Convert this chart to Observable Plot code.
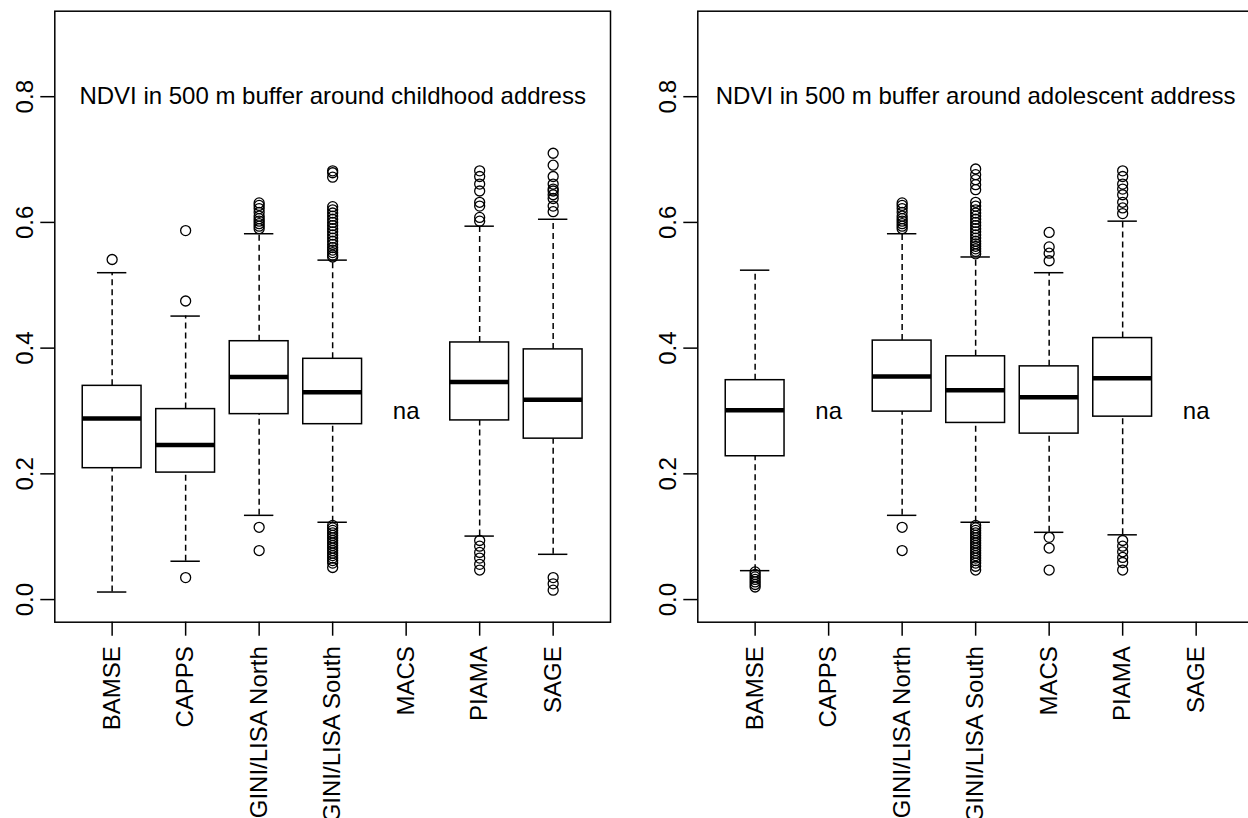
<!DOCTYPE html>
<html><head><meta charset="utf-8">
<script src="https://cdn.jsdelivr.net/npm/d3@7"></script>
<script src="https://cdn.jsdelivr.net/npm/@observablehq/plot@0.6"></script>
<style>
html,body{margin:0;padding:0;background:#fff;overflow:hidden;}
#wrap{position:relative;width:1248px;height:818px;overflow:hidden;}
#left,#right{position:absolute;top:0;height:818px;}
#left{left:0px;width:624px}
#right{left:624px;width:640px}
#wrap svg{max-width:none !important;display:block;}
</style></head><body><div id="wrap"><div id="left"></div><div id="right"></div></div>
<script>
const cohorts = ["BAMSE","CAPPS","GINI/LISA North","GINI/LISA South","MACS","PIAMA","SAGE"];
const yTicks = [0, 0.2, 0.4, 0.6, 0.8];

// Childhood address (left panel); null = not available
const childLow  = [0.012, 0.061, 0.134, 0.123, null, 0.101, 0.072];
const childQ1   = [0.209, 0.202, 0.295, 0.279, null, 0.285, 0.256];
const childMed  = [0.288, 0.246, 0.354, 0.330, null, 0.346, 0.318];
const childQ3   = [0.340, 0.303, 0.411, 0.383, null, 0.409, 0.398];
const childHigh = [0.520, 0.451, 0.582, 0.540, null, 0.594, 0.605];
const childOut = [
  [0.541],
  [0.587, 0.475, 0.035],
  [0.590, 0.594, 0.598, 0.602, 0.606, 0.610, 0.616, 0.622, 0.627, 0.631, 0.115, 0.078],
  [0.545, 0.548, 0.552, 0.556, 0.560, 0.565, 0.570, 0.575, 0.580, 0.585, 0.590, 0.595, 0.600, 0.605, 0.610, 0.615, 0.620, 0.625, 0.672, 0.679, 0.682,
   0.118, 0.114, 0.110, 0.106, 0.102, 0.098, 0.094, 0.090, 0.086, 0.082, 0.078, 0.074, 0.070, 0.066, 0.062, 0.058, 0.051],
  [],
  [0.602, 0.608, 0.626, 0.632, 0.650, 0.661, 0.673, 0.682, 0.094, 0.085, 0.075, 0.066, 0.056, 0.047],
  [0.617, 0.626, 0.638, 0.644, 0.650, 0.653, 0.661, 0.673, 0.691, 0.710, 0.035, 0.025, 0.015]
];

// Adolescent address (right panel)
const adolLow  = [0.046, null, 0.134, 0.123, 0.107, 0.103, null];
const adolQ1   = [0.228, null, 0.299, 0.281, 0.264, 0.291, null];
const adolMed  = [0.301, null, 0.355, 0.333, 0.322, 0.352, null];
const adolQ3   = [0.349, null, 0.412, 0.387, 0.371, 0.416, null];
const adolHigh = [0.524, null, 0.582, 0.545, 0.520, 0.602, null];
const adolOut = [
  [0.044, 0.040, 0.036, 0.032, 0.028, 0.024, 0.020],
  [],
  [0.590, 0.594, 0.598, 0.602, 0.606, 0.610, 0.616, 0.622, 0.627, 0.631, 0.115, 0.078],
  [0.550, 0.554, 0.558, 0.562, 0.566, 0.570, 0.575, 0.580, 0.585, 0.590, 0.595, 0.600, 0.605, 0.610, 0.615, 0.620, 0.626, 0.632, 0.652, 0.660, 0.668, 0.676, 0.685,
   0.118, 0.114, 0.110, 0.106, 0.102, 0.098, 0.094, 0.090, 0.086, 0.082, 0.078, 0.074, 0.070, 0.066, 0.062, 0.058, 0.053, 0.047],
  [0.584, 0.561, 0.551, 0.539, 0.099, 0.082, 0.047],
  [0.614, 0.623, 0.632, 0.644, 0.653, 0.661, 0.673, 0.682, 0.094, 0.085, 0.076, 0.067, 0.059, 0.047],
  []
];

const childTitle = "NDVI in 500 m buffer around childhood address";
const adolTitle = "NDVI in 500 m buffer around adolescent address";
const naLabel = "na";
const naValue = 0.3;
const titleCohort = 4;
const titleValue = 0.8;

function panel(low, q1, med, q3, high, outs, title, width, mLeft, mRight) {
  const rows = cohorts.map((c, k) => ({i: k + 1, c, lw: low[k], q1: q1[k], med: med[k], q3: q3[k], hw: high[k]}));
  const boxes = rows.filter(d => d.med != null);
  const nas = rows.filter(d => d.med == null);
  const pts = outs.flatMap((arr, k) => arr.map(v => ({i: k + 1, v})));
  const lw = 1.5;
  const font = "'Liberation Sans', Arial, Helvetica, sans-serif";
  return Plot.plot({
    width, height: 818,
    marginLeft: mLeft, marginRight: mRight, marginTop: 10.7, marginBottom: 196.3,
    x: {domain: [0.22, 7.78]},
    y: {domain: [-0.036, 0.936]},
    style: {fontFamily: font, fontSize: "23px", background: "white", color: "black", overflow: "visible"},
    marks: [
      Plot.ruleX(boxes, {x: "i", y1: "q3", y2: "hw", stroke: "black", strokeWidth: lw, strokeDasharray: "6,4"}),
      Plot.ruleX(boxes, {x: "i", y1: "lw", y2: "q1", stroke: "black", strokeWidth: lw, strokeDasharray: "6,4"}),
      Plot.ruleY(boxes, {y: "hw", x1: d => d.i - 0.2, x2: d => d.i + 0.2, stroke: "black", strokeWidth: lw}),
      Plot.ruleY(boxes, {y: "lw", x1: d => d.i - 0.2, x2: d => d.i + 0.2, stroke: "black", strokeWidth: lw}),
      Plot.rect(boxes, {x1: d => d.i - 0.4, x2: d => d.i + 0.4, y1: "q1", y2: "q3", fill: "white", stroke: "black", strokeWidth: lw}),
      Plot.ruleY(boxes, {y: "med", x1: d => d.i - 0.4, x2: d => d.i + 0.4, stroke: "black", strokeWidth: 4.5}),
      Plot.dot(pts, {x: "i", y: "v", r: 5, stroke: "black", strokeWidth: 1.3, fill: "none"}),
      Plot.text(nas, {x: "i", y: () => naValue, text: () => naLabel, fontSize: 24, fill: "black"}),
      Plot.text([title], {x: () => titleCohort, y: () => titleValue, text: d => d, fontSize: 24, fill: "black"}),
      Plot.frame({stroke: "black", strokeWidth: lw}),
      Plot.axisY({ticks: yTicks, tickSize: 14, tickRotate: -90, tickPadding: 8, tickFormat: d => d.toFixed(1), strokeWidth: lw, label: null, fontSize: 24}),
      Plot.axisX({ticks: rows.map(d => d.i), tickSize: 14, tickRotate: -90, tickPadding: 10, tickFormat: i => cohorts[i - 1], strokeWidth: lw, label: null, fontSize: 24})
    ]
  });
}

document.getElementById("left").append(panel(childLow, childQ1, childMed, childQ3, childHigh, childOut, childTitle, 624, 54.3, 14));
document.getElementById("right").append(panel(adolLow, adolQ1, adolMed, adolQ3, adolHigh, adolOut, adolTitle, 640, 73.3, 11));
</script>
</body></html>
